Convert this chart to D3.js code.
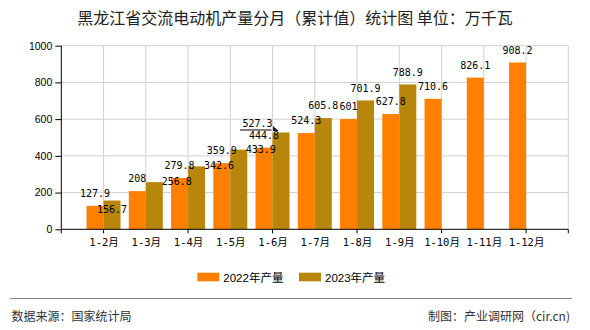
<!DOCTYPE html>
<html><head><meta charset="utf-8">
<script src="https://cdn.jsdelivr.net/npm/d3@7"></script>
<style>body{margin:0;background:#fff}svg{display:block}</style>
</head><body>
<svg id="c" width="590" height="330"></svg>
<script>
const categories = ["1-2月","1-3月","1-4月","1-5月","1-6月","1-7月","1-8月","1-9月","1-10月","1-11月","1-12月"];
const series2022 = [127.9, 208, 279.8, 359.9, 444.8, 524.3, 601, 627.8, 710.6, 826.1, 908.2];
const series2023 = [156.7, 256.8, 342.6, 433.9, 527.3, 605.8, 701.9, 788.9];
const seriesNames = ["2022年产量", "2023年产量"];
const yTicks = [0, 200, 400, 600, 800, 1000];
const title = "黑龙江省交流电动机产量分月（累计值）统计图 单位：万千瓦";
const source = "数据来源：国家统计局";
const credit = "制图：产业调研网（cir.cn)";

const colors = ["#FF8000", "#B8860B"];
const svg = d3.select("#c");
const L = 61.3, R = 568.3, T = 45.7, B = 229.3;
const step = (R - L) / 12;
const x = d3.scalePoint().domain(categories).range([L + step, R - step]);
const y = d3.scaleLinear().domain([0, 1000]).range([B, T]);
const bw = 17;

svg.append("text").attr("x", 295).attr("y", 24).attr("text-anchor", "middle")
  .attr("font-family", "'Noto Sans CJK SC', sans-serif").attr("font-size", 16).attr("fill", "#222").text(title);

// grid
const g = svg.append("g");
g.selectAll(".hg").data(yTicks.filter(d => d > 0)).join("line")
  .attr("x1", L).attr("x2", R).attr("y1", d => y(d)).attr("y2", d => y(d))
  .attr("stroke", "#d0d0d0").attr("stroke-width", 1);
g.selectAll(".vg").data(categories).join("line")
  .attr("x1", d => x(d)).attr("x2", d => x(d)).attr("y1", T).attr("y2", B)
  .attr("stroke", "#d0d0d0").attr("stroke-width", 1);
g.append("line").attr("x1", R).attr("x2", R).attr("y1", T).attr("y2", B).attr("stroke", "#d0d0d0");

// bars
const s1 = series2022.map((v, i) => ({v, c: categories[i], s: 0}));
const s2 = series2023.map((v, i) => ({v, c: categories[i], s: 1}));
const all = s1.concat(s2);
svg.append("g").selectAll("rect").data(all).join("rect")
  .attr("x", d => d.s === 0 ? x(d.c) - bw : x(d.c))
  .attr("width", bw)
  .attr("y", d => y(d.v)).attr("height", d => B - y(d.v))
  .attr("fill", d => colors[d.s]);

// axes
const ya = d3.axisLeft(y).tickValues(yTicks).tickSize(6).tickPadding(3).tickFormat(d3.format("d"));
const yg = svg.append("g").attr("transform", `translate(${L},0)`).call(ya);
yg.select(".domain").attr("stroke", "#000").attr("d", `M0,${T}V${B}`);
yg.selectAll(".tick line").attr("stroke", "#000");
yg.selectAll(".tick text").attr("font-family", "'Liberation Sans', sans-serif").attr("font-size", 10.5).attr("fill", "#000");

const xa = d3.axisBottom(x).tickSize(0).tickPadding(9);
const xg = svg.append("g").attr("transform", `translate(0,${B})`).call(xa);
xg.select(".domain").attr("stroke", "#000").attr("d", `M${L},0H${R}`);
xg.selectAll(".tick text").attr("font-family", "'DejaVu Sans Mono', 'Noto Sans CJK SC', monospace").attr("font-size", 10.5).attr("fill", "#000");
const tickXs = [L, R].concat(categories.filter((c, i) => i % 2 === 0).map(c => x(c)));
xg.selectAll(".tk").data(tickXs).join("line")
  .attr("x1", d => d).attr("x2", d => d).attr("y1", 0).attr("y2", 4).attr("stroke", "#000");

// labels
const shift = {"1-1": [22.5, 12], "1-2": [22.5, 12], "1-3": [22, 12], "1-0": [0, 21], "1-4": [-23.6, 3.3]};
const lab = svg.append("g").attr("font-family", "'DejaVu Sans Mono', monospace").attr("font-size", 10).attr("fill", "#000");
all.forEach((d, i) => {
  const idx = categories.indexOf(d.c);
  const off = shift[d.s + "-" + idx] || [0, 0];
  const cx = x(d.c) + (d.s === 0 ? -bw / 2 : bw / 2) + off[0];
  const cy = y(d.v) - 12.5 + off[1];
  lab.append("text").attr("x", cx).attr("y", cy + 3.6).attr("text-anchor", "middle").text(d3.format("")(d.v));
});
// leader line for shifted 527.3 label
const lx = x(categories[4]);
const ly = y(series2023[4]) - 2.5;
svg.append("line").attr("x1", lx - 32.5).attr("x2", lx - 1).attr("y1", ly).attr("y2", ly).attr("stroke", "#000").attr("stroke-width", 1);
svg.append("path").attr("d", `M${lx + 0.5},${ly - 4}L${lx + 6},${ly + 1}L${lx + 0.5},${ly + 1}Z`).attr("fill", "#111");

// legend
const lg = svg.append("g");
const legX = [197.3, 299];
seriesNames.forEach((n, i) => {
  lg.append("rect").attr("x", legX[i]).attr("y", 272.7).attr("width", 22).attr("height", 8.6).attr("fill", colors[i]);
  lg.append("text").attr("x", legX[i] + 26).attr("y", 281.5)
    .attr("font-family", "'Liberation Sans', 'Noto Sans CJK SC', sans-serif").attr("font-size", 11.5).attr("fill", "#000").text(n);
});

// footer
svg.append("line").attr("x1", 10).attr("x2", 572).attr("y1", 298.5).attr("y2", 298.5).attr("stroke", "#888").attr("stroke-width", 1);
svg.append("text").attr("x", 11.5).attr("y", 321).attr("font-family", "'Noto Sans CJK SC', sans-serif").attr("font-size", 12).attr("fill", "#333").text(source);
svg.append("text").attr("x", 570).attr("y", 321).attr("text-anchor", "end").attr("font-family", "'Noto Sans CJK SC', sans-serif").attr("font-size", 12).attr("fill", "#333").text(credit);
</script>
</body></html>
